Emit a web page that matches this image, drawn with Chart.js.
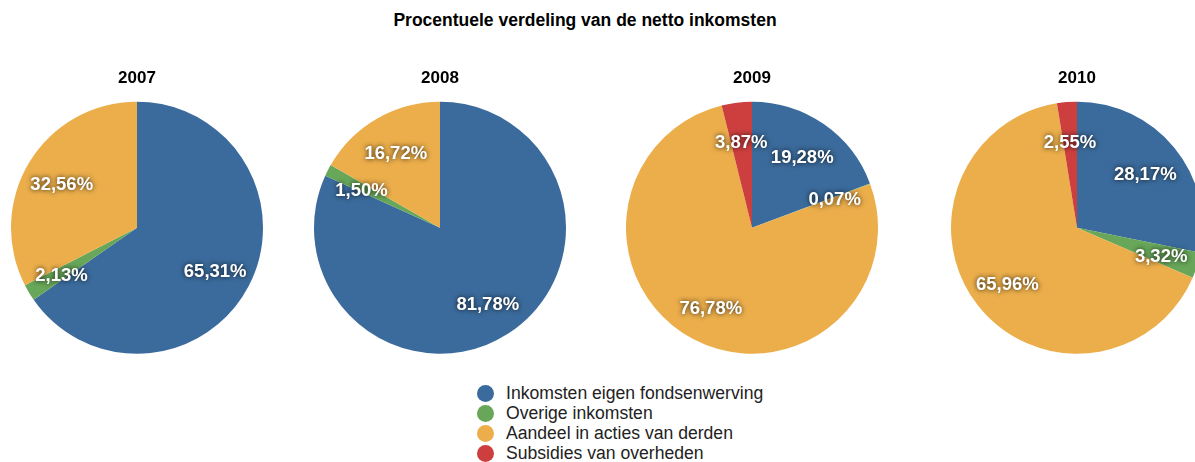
<!DOCTYPE html>
<html>
<head>
<meta charset="utf-8">
<script src="https://cdn.jsdelivr.net/npm/chart.js@4"></script>
<style>
  body { margin: 0; width: 1195px; height: 462px; overflow: hidden; background: #fff;
         font-family: "Liberation Sans", Arial, Helvetica, sans-serif; position: relative; }
  #title { position: absolute; top: 10px; left: 0; width: 1170px; text-align: center;
           font-weight: bold; font-size: 17.5px; color: #000; }
  .pie { position: absolute; }
  #legend { position: absolute; left: 477px; top: 383px; }
  #legend div { height: 20px; line-height: 20px; font-size: 17.6px; color: #222; white-space: nowrap; }
  #legend span { display: inline-block; width: 17px; height: 17px; border-radius: 50%;
                 vertical-align: -3px; margin-right: 12px; }
</style>
</head>
<body>
<div id="title">Procentuele verdeling van de netto inkomsten</div>
<div id="legend"></div>
<script>
var categories = ['Inkomsten eigen fondsenwerving', 'Overige inkomsten', 'Aandeel in acties van derden', 'Subsidies van overheden'];
var colors = ['#3b6b9c', '#68a659', '#ebae4b', '#cd3f3f'];
var years = ['2007', '2008', '2009', '2010'];
var values2007 = [65.31, 2.13, 32.56, 0];
var values2008 = [81.78, 1.50, 16.72, 0];
var values2009 = [19.28, 0.07, 76.78, 3.87];
var values2010 = [28.17, 3.32, 65.96, 2.55];
var allValues = [values2007, values2008, values2009, values2010];
var centersX = [137, 440, 752, 1077];

// legend
var leg = document.getElementById('legend');
categories.forEach(function(c, i) {
  var d = document.createElement('div');
  d.innerHTML = '<span style="background:' + colors[i] + '"></span>' + c;
  leg.appendChild(d);
});

// white labels with shadow inside each slice
var sliceLabels = {
  id: 'sliceLabels',
  afterDatasetsDraw: function(chart) {
    var ctx = chart.ctx;
    var meta = chart.getDatasetMeta(0);
    var data = chart.data.datasets[0].data;
    ctx.save();
    ctx.font = 'bold 18.5px "Liberation Sans", Arial, sans-serif';
    ctx.textAlign = 'center';
    ctx.textBaseline = 'middle';
    ctx.fillStyle = '#fff';
    ctx.shadowColor = 'rgba(0,0,0,0.85)';
    ctx.shadowBlur = 5;
    meta.data.forEach(function(arc, i) {
      if (!data[i]) return;
      var p = arc.getProps(['x', 'y', 'startAngle', 'endAngle', 'outerRadius'], true);
      var mid = (p.startAngle + p.endAngle) / 2;
      var r = p.outerRadius * 0.7;
      var txt = data[i].toFixed(2).replace('.', ',') + '%';
      ctx.fillText(txt, p.x + Math.cos(mid) * r, p.y + Math.sin(mid) * r + 3);
    });
    ctx.restore();
  }
};

years.forEach(function(y, k) {
  var cv = document.createElement('canvas');
  cv.className = 'pie';
  cv.width = 260; cv.height = 300;
  cv.style.width = '260px'; cv.style.height = '300px';
  cv.style.left = (centersX[k] - 130) + 'px';
  cv.style.top = '62px';
  document.body.appendChild(cv);
  new Chart(cv, {
    type: 'pie',
    data: {
      labels: categories,
      datasets: [{ data: allValues[k], backgroundColor: colors, borderWidth: 0 }]
    },
    options: {
      responsive: false,
      animation: false,
      layout: { padding: { left: 4, right: 4, top: 0, bottom: 8 } },
      plugins: {
        legend: { display: false },
        tooltip: { enabled: false },
        title: {
          display: true, text: y, color: '#000',
          font: { family: '"Liberation Sans", Arial, sans-serif', size: 17, weight: 'bold' },
          padding: { top: 6, bottom: 13 }
        }
      }
    },
    plugins: [sliceLabels]
  });
});
</script>
</body>
</html>
